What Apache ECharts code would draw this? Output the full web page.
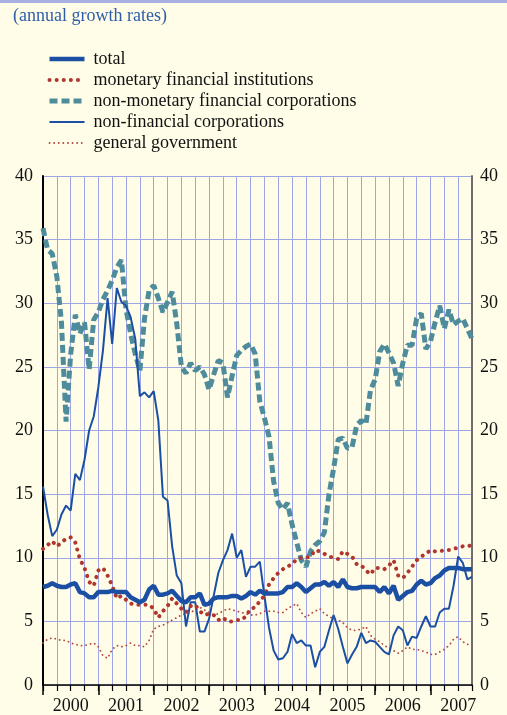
<!DOCTYPE html>
<html>
<head>
<meta charset="utf-8">
<script src="https://cdn.jsdelivr.net/npm/echarts@6/dist/echarts.min.js"></script>
<style>
html,body{margin:0;padding:0;background:#FFFDE8;}
#chart{width:507px;height:715px;}
</style>
</head>
<body>
<div id="chart"></div>
<script>
// ---- categories ----
const years = ['2000','2001','2002','2003','2004','2005','2006','2007'];
const lastMonthOfLastYear = 10; // data run Jan 2000 - Oct 2007
const months = [];
years.forEach((y, yi) => {
  const maxM = yi === years.length - 1 ? lastMonthOfLastYear : 12;
  for (let m = 1; m <= maxM; m++) months.push(y + '-' + (m < 10 ? '0' + m : m));
});

// ---- series values (annual growth rates, %) ----
const total = [
  7.7,7.8,8.0,7.8,7.7,7.7,7.9,8.0,7.3,7.2,6.9,6.9,7.3,7.3,7.3,7.4,7.3,7.3,7.3,6.9,6.7,6.5,6.7,7.5,
  7.8,7.1,7.1,7.2,7.4,7.0,6.6,6.5,6.9,6.9,7.2,6.3,6.4,6.8,6.9,6.9,6.9,7.0,7.0,6.8,7.0,7.3,7.1,7.4,
  7.2,7.2,7.2,7.2,7.3,7.7,7.7,8.0,7.7,7.3,7.6,7.9,7.9,8.1,7.8,8.1,7.7,8.3,7.7,7.6,7.6,7.7,7.7,7.7,
  7.7,7.3,7.7,7.2,7.8,6.7,7.0,7.3,7.4,7.9,8.2,7.9,8.0,8.4,8.6,9.0,9.2,9.2,9.2,9.1,9.1,9.1
];
const mfi = [
  10.7,11.0,11.3,10.9,11.2,11.5,11.6,11.2,9.9,9.2,8.1,7.8,9.0,9.2,8.6,7.8,6.8,7.0,6.7,6.4,6.3,6.3,6.3,6.3,
  6.0,5.3,5.8,6.2,6.8,6.4,6.0,5.7,6.2,6.3,5.8,5.5,5.6,5.5,5.1,5.3,5.0,5.0,5.1,5.1,5.4,6.0,6.1,6.6,
  7.0,7.9,8.4,8.8,9.1,9.3,9.5,9.9,10.0,10.0,10.1,10.6,10.5,10.3,10.1,10.0,9.9,10.5,10.3,10.1,9.5,9.4,9.0,8.7,
  9.2,9.2,9.1,9.4,9.8,8.6,8.4,8.8,9.3,9.8,10.1,10.3,10.6,10.5,10.5,10.6,10.6,10.7,10.8,10.9,10.9,11.0
];
const nmfc = [
  35.9,34.2,33.9,32.1,28.5,20.7,26.0,29.1,27.6,28.5,24.8,28.7,29.3,30.3,31.0,31.8,32.8,33.4,29.5,27.6,26.0,24.7,28.8,31.0,
  31.4,30.4,29.3,30.1,30.9,28.4,25.0,24.5,25.3,24.7,25.0,24.4,23.2,24.4,25.5,25.3,22.6,24.3,25.9,26.3,26.6,26.8,26.0,22.3,
  21.0,19.5,16.0,14.3,13.8,14.3,12.6,11.2,9.8,9.3,10.5,11.0,11.3,12.0,15.0,17.0,19.3,19.4,18.6,18.7,20.4,20.8,20.5,23.2,
  24.0,26.2,26.8,26.1,25.3,23.5,25.3,26.7,26.7,28.8,29.2,26.4,27.0,28.5,29.8,28.0,29.5,28.3,28.6,28.8,28.0,27.2
];
const nfc = [
  15.6,13.4,11.7,12.2,13.4,14.1,13.7,16.6,16.1,17.7,20.0,21.1,23.4,26.3,30.4,26.8,31.2,30.1,29.8,28.9,27.2,22.7,23.0,22.6,
  23.1,20.8,14.8,14.5,10.9,8.6,8.0,4.6,6.5,6.5,4.2,4.2,5.2,7.0,8.8,9.8,10.6,11.9,10.0,10.6,8.5,9.3,9.3,9.7,
  7.0,4.5,2.7,2.0,2.1,2.6,4.0,3.3,3.5,3.1,3.1,1.4,2.6,3.0,4.3,5.5,4.4,3.0,1.7,2.4,3.0,4.1,3.3,3.5,
  3.4,3.0,2.6,2.4,3.9,4.6,4.3,3.1,3.8,3.7,4.6,5.4,4.6,4.6,5.7,6.0,6.0,7.8,10.1,9.6,8.3,8.5
];
const govt = [
  3.3,3.6,3.7,3.6,3.5,3.5,3.3,3.2,3.1,3.1,3.2,3.3,3.0,2.3,2.1,2.8,3.1,3.0,3.1,3.3,3.1,3.1,3.0,3.5,
  4.4,4.6,4.7,4.9,5.1,5.3,5.5,5.6,5.7,5.9,6.1,5.9,5.7,5.5,5.6,5.8,6.0,5.9,5.8,5.7,5.6,5.5,5.5,5.6,
  5.8,5.8,5.8,5.7,5.7,6.0,6.2,6.4,5.7,5.3,5.6,5.8,6.0,5.6,5.4,5.2,5.1,4.9,4.5,4.3,4.3,4.4,4.6,3.9,
  3.6,3.4,3.1,2.9,2.7,2.5,2.7,3.0,2.8,2.8,2.7,2.6,2.4,2.4,2.6,2.8,3.1,3.6,3.8,3.4,3.2,3.2
];

const seriesNames = [
  'total',
  'monetary financial institutions',
  'non-monetary financial corporations',
  'non-financial corporations',
  'general government'
];
const yTicks = {min: 0, max: 40, interval: 5};

// ---- styles ----
const FONT = 'Liberation Serif';
const GRIDC = '#9EA6E6';
const BLUE = '#1B4FA3';
const TEAL = '#4E8C9C';
const RED = '#B0372E';
const RED2 = '#B24A40';

const styles = [
  {color: BLUE, width: 4.5, type: 'solid', cap: 'butt', z: 6},
  {color: RED, width: 4, type: [0.1, 7], cap: 'round', z: 5},
  {color: TEAL, width: 5, type: [8, 4], cap: 'butt', z: 2},
  {color: BLUE, width: 2, type: 'solid', cap: 'butt', z: 4},
  {color: RED2, width: 1.8, type: [0.1, 4.5], cap: 'round', z: 3}
];
const dataSets = [total, mfi, nmfc, nfc, govt];

const chart = echarts.init(document.getElementById('chart'), null, {renderer: 'canvas'});

const series = seriesNames.map((name, i) => ({
  name: name,
  type: 'line',
  data: dataSets[i],
  symbol: 'none',
  smooth: false,
  z: styles[i].z,
  lineStyle: {color: styles[i].color, width: styles[i].width, type: styles[i].type, cap: styles[i].cap},
  itemStyle: {color: styles[i].color},
  animation: false
}));

const option = {
  backgroundColor: '#FFFDE8',
  animation: false,
  graphic: [
    {type: 'rect', left: 0, top: 0, shape: {width: 507, height: 3}, style: {fill: '#A9AFE2'}},
    {type: 'text', left: 13, top: 7, style: {text: '(annual growth rates)', font: '18px "Liberation Serif"', fill: '#2F5DAA'}}
  ],
  legend: {
    orient: 'vertical',
    left: 42,
    top: 45,
    itemWidth: 35,
    itemHeight: 14,
    itemGap: 3,
    selectedMode: false,
    itemStyle: {opacity: 0},
    textStyle: {fontFamily: FONT, fontSize: 18, color: '#111', padding: [0, 0, 0, 4]},
    data: seriesNames.map((n, i) => ({
      name: n,
      itemStyle: {opacity: 0},
      lineStyle: {color: styles[i].color, width: styles[i].width, type: styles[i].type, cap: styles[i].cap}
    }))
  },
  grid: {left: 43, right: 35, top: 176, bottom: 30, containLabel: false},
  xAxis: [
    {
      type: 'category',
      data: months,
      boundaryGap: false,
      axisLine: {show: true, lineStyle: {color: '#000', width: 1.5}},
      axisTick: {show: true, interval: (i) => i % 3 === 0, length: 6, lineStyle: {color: '#000', width: 1.2}},
      axisLabel: {
        show: true,
        interval: (i) => i % 12 === 6,
        formatter: (v) => v.slice(0, 4),
        fontFamily: FONT, fontSize: 18, color: '#111', margin: 12
      },
      splitLine: {show: true, interval: (i) => i % 3 === 0 && i > 0, lineStyle: {color: GRIDC, width: 1}}
    },
    {
      type: 'category',
      data: months,
      boundaryGap: false,
      position: 'bottom',
      axisLine: {show: false},
      axisTick: {show: true, interval: (i) => i % 12 === 0, length: 10, lineStyle: {color: '#000', width: 1.5}},
      axisLabel: {show: false},
      splitLine: {show: false}
    }
  ],
  yAxis: [
    {
      type: 'value', min: yTicks.min, max: yTicks.max, interval: yTicks.interval, position: 'left',
      axisLine: {show: true, lineStyle: {color: '#000', width: 2}},
      axisTick: {show: false},
      axisLabel: {fontFamily: FONT, fontSize: 18, color: '#111', margin: 10},
      splitLine: {show: true, lineStyle: {color: GRIDC, width: 1}}
    },
    {
      type: 'value', min: yTicks.min, max: yTicks.max, interval: yTicks.interval, position: 'right',
      axisLine: {show: true, lineStyle: {color: '#6E6E6E', width: 2}},
      axisTick: {show: false},
      axisLabel: {fontFamily: FONT, fontSize: 18, color: '#111', margin: 8},
      splitLine: {show: false}
    }
  ],
  series: series
};
chart.setOption(option);
</script>
</body>
</html>
